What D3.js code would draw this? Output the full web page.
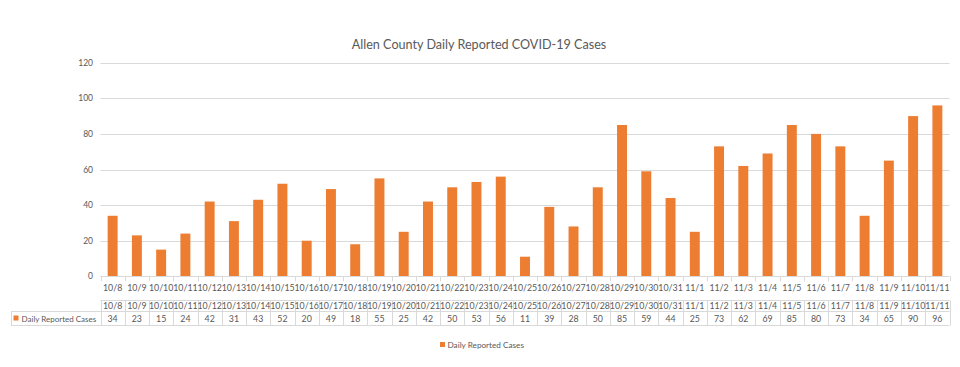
<html>
  <head>
    <style>
      body { margin: 0; background: #fff; }
      text { font-family: Lato, "Open Sans", sans-serif; fill: #595959; }
    </style>
  </head>
  <body>
    <div id="chart"></div>
    <script src="https://d3js.org/d3.v7.min.js"></script>
    <script>
      const dates = ["10/8","10/9","10/10","10/11","10/12","10/13","10/14","10/15","10/16","10/17","10/18","10/19","10/20","10/21","10/22","10/23","10/24","10/25","10/26","10/27","10/28","10/29","10/30","10/31","11/1","11/2","11/3","11/4","11/5","11/6","11/7","11/8","11/9","11/10","11/11"];
      const cases = [34,23,15,24,42,31,43,52,20,49,18,55,25,42,50,53,56,11,39,28,50,85,59,44,25,73,62,69,85,80,73,34,65,90,96];
      const yTicks = [0,20,40,60,80,100,120];
      const seriesName = "Daily Reported Cases";
      const title = "Allen County Daily Reported COVID-19 Cases";

      const width = 960, height = 367;
      const plotLeft = 100.5, plotRight = 949.5, plotTop = 62.7, plotBottom = 276.3;
      const orange = "#ED7D31", grid = "#d9d9d9";

      const svg = d3.select("#chart").append("svg")
        .attr("width", width).attr("height", height);

      const x = d3.scaleBand().domain(dates).range([plotLeft, plotRight]).paddingInner(0.59).paddingOuter(0.295);
      const xc = d3.scaleBand().domain(dates).range([plotLeft, plotRight]);
      const y = d3.scaleLinear().domain([0, 120]).range([plotBottom, plotTop]);

      svg.append("text").attr("x", 479).attr("y", 48.5).attr("text-anchor", "middle")
        .style("font-size", "12.6px").text(title);

      // grid
      svg.append("g").selectAll("line").data(yTicks.slice(1)).enter().append("line")
        .attr("x1", plotLeft).attr("x2", plotRight)
        .attr("y1", d => Math.round(y(d)) + 0.5).attr("y2", d => Math.round(y(d)) + 0.5)
        .attr("stroke", grid);

      svg.append("g").selectAll("text").data(yTicks).enter().append("text")
        .attr("x", 93).attr("y", d => y(d) + 3).attr("text-anchor", "end")
        .style("font-size", "8.5px").text(d => d);

      // bars
      svg.append("g").selectAll("rect").data(cases).enter().append("rect")
        .attr("x", (d, i) => x(dates[i])).attr("width", x.bandwidth())
        .attr("y", d => y(d)).attr("height", d => plotBottom - y(d))
        .attr("fill", orange);

      // axis line + ticks
      svg.append("line").attr("x1", plotLeft).attr("x2", plotRight)
        .attr("y1", Math.round(plotBottom) + 0.5).attr("y2", Math.round(plotBottom) + 0.5).attr("stroke", grid);
      const bounds = dates.map(d => xc(d)).concat([plotRight]);
      svg.append("g").selectAll("line").data(bounds).enter().append("line")
        .attr("x1", d => Math.round(d) + 0.5).attr("x2", d => Math.round(d) + 0.5)
        .attr("y1", plotBottom).attr("y2", plotBottom + 5).attr("stroke", grid);

      svg.append("g").selectAll("text").data(dates).enter().append("text")
        .attr("x", d => xc(d) + xc.bandwidth() / 2).attr("y", 291).attr("text-anchor", "middle")
        .style("font-size", "8.8px").text(d => d);

      // data table
      const t0 = 300.5, t1 = 311.5, t2 = 325.5;
      const tbl = svg.append("g");
      tbl.append("line").attr("x1", plotLeft).attr("x2", plotRight).attr("y1", t0).attr("y2", t0).attr("stroke", grid);
      tbl.append("line").attr("x1", 11).attr("x2", plotRight).attr("y1", t1).attr("y2", t1).attr("stroke", grid);
      tbl.append("line").attr("x1", 11).attr("x2", plotRight).attr("y1", t2).attr("y2", t2).attr("stroke", grid);
      tbl.append("line").attr("x1", 11.5).attr("x2", 11.5).attr("y1", t1).attr("y2", t2).attr("stroke", grid);
      tbl.selectAll(".v").data(bounds).enter().append("line")
        .attr("x1", d => Math.round(d) + 0.5).attr("x2", d => Math.round(d) + 0.5)
        .attr("y1", t0).attr("y2", t2).attr("stroke", grid);
      tbl.selectAll(".d").data(dates).enter().append("text")
        .attr("x", d => xc(d) + xc.bandwidth() / 2).attr("y", 309).attr("text-anchor", "middle")
        .style("font-size", "8.8px").text(d => d);
      tbl.selectAll(".c").data(cases).enter().append("text")
        .attr("x", (d, i) => xc(dates[i]) + xc.bandwidth() / 2).attr("y", 321.5).attr("text-anchor", "middle")
        .style("font-size", "8.8px").text(d => d);
      tbl.append("rect").attr("x", 13.5).attr("y", 315.5).attr("width", 5).attr("height", 5).attr("fill", orange);
      tbl.append("text").attr("x", 21.5).attr("y", 321.5).style("font-size", "8px").text(seriesName);

      // legend
      svg.append("rect").attr("x", 440).attr("y", 342).attr("width", 5).attr("height", 5).attr("fill", orange);
      svg.append("text").attr("x", 447.5).attr("y", 348).style("font-size", "8.2px").text(seriesName);
    </script>
  </body>
</html>
